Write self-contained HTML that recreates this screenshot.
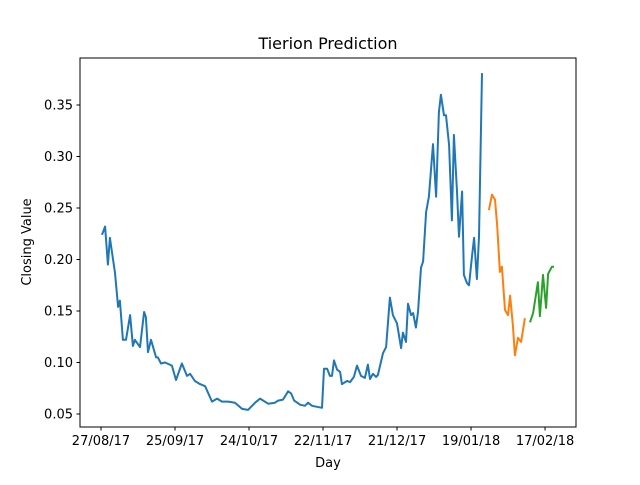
<!DOCTYPE html>
<html><head><meta charset="utf-8"><style>
body{margin:0;background:#fff}
text{font-family:"DejaVu Sans","Liberation Sans",sans-serif;fill:#000}
</style></head><body>
<svg id="chart" width="640" height="480" xmlns="http://www.w3.org/2000/svg">
<rect width="640" height="480" fill="#fff"/>
<text x="328" y="49" font-size="16" text-anchor="middle">Tierion Prediction</text>
<text x="328" y="467" font-size="13" text-anchor="middle">Day</text>
<text x="0" y="0" font-size="13" text-anchor="middle" transform="translate(31,242) rotate(-90)">Closing Value</text>
<g id="ticks"></g>
<g id="series"></g>
<rect x="80" y="58" width="496" height="369" fill="none" stroke="#000" stroke-width="1"/>
</svg>
<script>
const xTickDays=[0,29,58,87,116,145,174];
const xTickLabels=["27/08/17","25/09/17","24/10/17","22/11/17","21/12/17","19/01/18","17/02/18"];
const yTicks=[0.05,0.10,0.15,0.20,0.25,0.30,0.35];
const yTickLabels=["0.05","0.10","0.15","0.20","0.25","0.30","0.35"];
const actualDays=[0.4,1.6,2.7,3.5,5.5,6.7,7.4,8.6,9.8,11.4,12.5,13.3,15.3,16.9,17.6,18.4,19.6,21.6,22.3,23.5,25.1,27.8,29.4,31.7,33.7,34.9,36.8,38.8,40.8,43.5,45.5,47.4,49.8,52.5,55.3,57.6,60.4,62.3,65.5,68.2,69.4,71.3,73.3,74.5,75.7,78.0,79.9,81.1,82.7,84.6,86.6,87.4,88.6,89.7,90.5,91.3,92.5,93.7,94.4,96.4,97.6,99.1,100.3,101.9,103.4,104.6,105.4,106.6,107.8,108.5,110.5,111.7,113.2,114.4,116.0,117.6,118.3,119.5,120.3,121.5,122.3,123.4,124.2,125.4,126.2,127.4,128.5,130.1,131.3,132.4,133.2,134.4,135.2,136.4,137.5,138.3,139.5,140.3,141.5,142.2,143.4,144.2,145.4,146.2,147.3,148.1,149.3];
const actualValues=[0.224,0.232,0.195,0.221,0.187,0.154,0.160,0.122,0.122,0.146,0.116,0.122,0.115,0.149,0.144,0.110,0.122,0.105,0.105,0.099,0.100,0.097,0.083,0.099,0.087,0.089,0.082,0.079,0.077,0.062,0.065,0.062,0.062,0.061,0.055,0.054,0.061,0.065,0.060,0.061,0.063,0.064,0.072,0.070,0.063,0.059,0.058,0.061,0.058,0.057,0.056,0.094,0.094,0.087,0.087,0.102,0.093,0.091,0.079,0.082,0.081,0.086,0.097,0.087,0.085,0.098,0.084,0.089,0.086,0.088,0.109,0.115,0.163,0.146,0.138,0.114,0.129,0.120,0.157,0.146,0.148,0.134,0.149,0.192,0.198,0.246,0.261,0.312,0.261,0.343,0.360,0.340,0.340,0.311,0.238,0.321,0.266,0.222,0.266,0.185,0.177,0.175,0.204,0.221,0.181,0.222,0.381];
const predDays=[152.0,153.2,154.4,155.2,156.3,157.1,158.3,159.5,160.3,161.4,162.2,163.4,164.6,166.1];
const predValues=[0.248,0.263,0.258,0.234,0.188,0.193,0.151,0.146,0.165,0.136,0.107,0.124,0.120,0.143];
const futureDays=[168.1,169.3,171.2,172.0,173.2,174.4,175.2,176.7,177.5];
const futureValues=[0.139,0.148,0.178,0.145,0.185,0.153,0.186,0.193,0.193];

const NS="http://www.w3.org/2000/svg";
function xS(d){return 101+d*2.552;}
function yS(v){return 414-(v-0.05)*1030;}
const tg=document.getElementById('ticks');
xTickDays.forEach((d,i)=>{
  const x=xS(d);
  const l=document.createElementNS(NS,'line');
  l.setAttribute('x1',x);l.setAttribute('x2',x);l.setAttribute('y1',427);l.setAttribute('y2',430.5);l.setAttribute('stroke','#000');
  
  
  tg.appendChild(l);
  const t=document.createElementNS(NS,'text');
  t.setAttribute('x',x);t.setAttribute('y',445);t.setAttribute('font-size','13');t.setAttribute('text-anchor','middle');
  t.textContent=xTickLabels[i];
  
  
  tg.appendChild(t);
});
yTicks.forEach((v,i)=>{
  const y=yS(v);
  const l=document.createElementNS(NS,'line');
  l.setAttribute('x1',76.5);l.setAttribute('x2',80);l.setAttribute('y1',y);l.setAttribute('y2',y);l.setAttribute('stroke','#000');
  
  
  tg.appendChild(l);
  const t=document.createElementNS(NS,'text');
  t.setAttribute('x',73);t.setAttribute('y',y+4.5);t.setAttribute('font-size','13');t.setAttribute('text-anchor','end');
  t.textContent=yTickLabels[i];
  
  
  tg.appendChild(t);
});
const sg=document.getElementById('series');
function line(days,vals,color,name){
  const p=document.createElementNS(NS,'polyline');
  p.setAttribute('points',days.map((d,i)=>xS(d).toFixed(1)+','+yS(vals[i]).toFixed(1)).join(' '));
  p.setAttribute('fill','none');p.setAttribute('stroke',color);p.setAttribute('stroke-width','2');p.setAttribute('stroke-linejoin','round');
  
  
  sg.appendChild(p);
}
line(actualDays,actualValues,'#1f77b4','actual-series-line');
line(predDays,predValues,'#ff7f0e','prediction-series-line');
line(futureDays,futureValues,'#2ca02c','future-series-line');
</script>
</body></html>
